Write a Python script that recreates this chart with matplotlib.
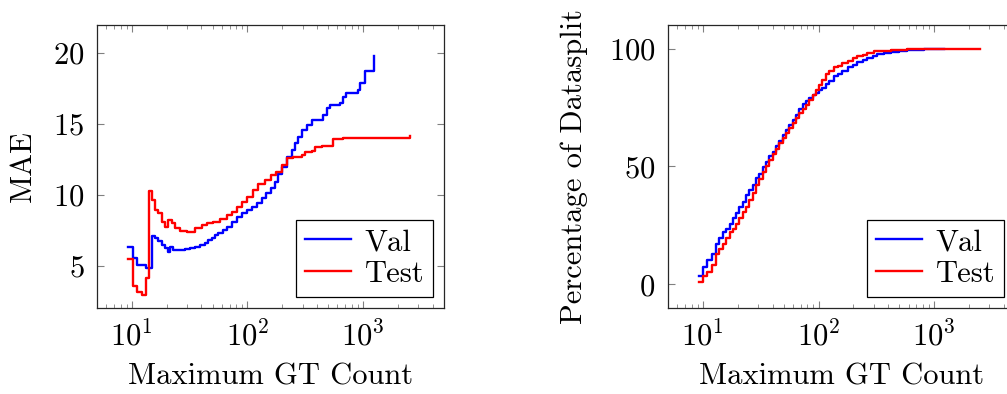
import matplotlib
matplotlib.use('Agg')
import matplotlib.pyplot as plt
from matplotlib.ticker import LogLocator, LogFormatterSciNotation, NullFormatter

plt.rcParams['font.family'] = 'cmr10'
plt.rcParams['mathtext.fontset'] = 'cm'
plt.rcParams['axes.formatter.use_mathtext'] = True
plt.rcParams['font.size'] = 22

# MAE vs maximum GT count (step curves)
mae_val_x = [9.2, 10.2, 11.2, 13.3, 15.1, 15.9, 16.9, 18.2, 19.4, 20.7, 21.4, 22.9, 28.9,
             31.9, 35.2, 38.9, 42.9, 45.8, 49, 52.5, 56, 61.9, 66, 73, 80.6, 89, 98.3,
             108.6, 120, 132.5, 146, 161, 173, 185, 197, 218, 241, 258, 275, 294, 324,
             358, 452, 483, 515, 629, 672, 718, 906, 944, 1033, 1242]
mae_val_y = [6.30, 5.52, 5.05, 4.82, 7.12, 6.93, 6.70, 6.46, 6.23, 5.99, 6.30, 6.11, 6.18,
             6.27, 6.34, 6.46, 6.62, 6.77, 6.93, 7.17, 7.33, 7.52, 7.75, 8.11, 8.46, 8.70,
             8.93, 9.17, 9.41, 9.76, 10.11, 10.47, 10.93, 11.45, 11.99, 12.70, 13.17,
             13.64, 14.11, 14.58, 14.94, 15.29, 15.64, 16.11, 16.35, 16.47, 16.94, 17.22,
             17.41, 17.93, 18.77, 19.81]
mae_test_x = [9.2, 10.2, 11.2, 12.2, 13.3, 14.2, 15.1, 15.9, 16.9, 18.2, 19.4, 20.7, 22.1,
              23.6, 26.1, 29.9, 35.2, 40.2, 44.4, 50.7, 57.9, 66, 73, 80.6, 89, 98.3, 112,
              124, 142, 161, 178, 197, 218, 248, 294, 315, 358, 384, 437, 551, 672, 2560]
mae_test_y = [5.45, 3.52, 3.16, 2.93, 4.11, 10.30, 9.64, 8.93, 8.70, 8.11, 7.75, 8.23,
              8.00, 7.64, 7.47, 7.40, 7.64, 7.87, 8.00, 8.11, 8.28, 8.58, 8.81, 9.17, 9.52,
              9.87, 10.35, 10.77, 11.05, 11.40, 11.64, 12.11, 12.58, 12.70, 12.82, 13.05,
              13.10, 13.40, 13.45, 13.95, 14.00, 14.16]

# cumulative percentage of the datasplit
cdf_val_x = [9.2, 10, 10.9, 11.96, 13, 13.9, 14.9, 15.9, 17, 18.1, 19.4, 20.7, 22.1, 23.6,
             25.2, 26.9, 28.8, 30.7, 32.9, 35.1, 37.5, 40, 42.8, 45.8, 48.9, 52.3, 55.9,
             59.7, 63.7, 68, 72.7, 77.7, 83, 88.8, 94.8, 101, 108, 116, 124, 136, 146, 160,
             178, 197, 217, 240, 264, 293, 323, 370, 420, 500, 585, 700, 813, 1000, 1211]
cdf_val_y = [3.4, 7.4, 10.2, 12.8, 17.1, 19.5, 22.3, 23.7, 25.8, 28.0, 30.1, 33.0, 35.1,
             37.9, 40.1, 42.2, 45.0, 47.0, 49.6, 52.0, 54.3, 56.3, 58.5, 61.0, 63.5, 65.6,
             67.8, 69.9, 72.0, 74.2, 76.3, 77.8, 79.2, 80.3, 81.3, 82.3, 83.4, 84.8, 86.3,
             88.4, 89.1, 90.6, 92.0, 93.1, 94.1, 95.2, 96.2, 97.0, 97.6, 98.2, 98.6, 99.0,
             99.3, 99.5, 99.7, 99.9, 100.0]
cdf_test_x = [9.2, 10, 10.9, 11.96, 13, 13.9, 14.9, 15.9, 17, 18.1, 19.4, 20.7, 22.1, 23.6,
              25.2, 26.9, 28.8, 30.7, 32.9, 35.1, 37.5, 40, 42.8, 45.8, 48.9, 52.3, 55.9,
              59.7, 63.7, 68, 72.7, 77.7, 83, 88.8, 94.8, 101, 108, 116, 124, 136, 146,
              160, 178, 197, 217, 240, 264, 301, 350, 420, 500, 585, 800, 1000, 2506]
cdf_test_y = [1.0, 3.4, 5.3, 8.1, 12.8, 15.2, 17.3, 19.5, 22.3, 23.7, 25.8, 28.0, 30.8,
              33.0, 35.8, 38.6, 42.2, 44.5, 47.5, 50.2, 52.8, 55.1, 57.6, 59.8, 62.0, 64.0,
              66.2, 68.3, 70.5, 72.5, 74.5, 76.2, 78.2, 80.4, 82.5, 84.5, 86.8, 89.1, 90.6,
              92.0, 92.8, 93.8, 94.9, 95.8, 96.7, 97.4, 98.0, 98.8, 99.1, 99.4, 99.6, 99.7,
              99.9, 100.0, 100.0]


def style_axis(ax, ylim, yticks):
    ax.set_xscale('log')
    ax.set_xlim(5, 5000)
    ax.set_ylim(*ylim)
    ax.set_yticks(yticks)
    ax.xaxis.set_major_locator(LogLocator(base=10, numticks=10))
    ax.xaxis.set_minor_locator(LogLocator(base=10, subs=range(2, 10), numticks=20))
    ax.xaxis.set_major_formatter(LogFormatterSciNotation())
    ax.xaxis.set_minor_formatter(NullFormatter())
    ax.tick_params(which='both', direction='in', top=True, right=True, color='0.5')
    ax.tick_params(which='major', length=5, width=0.8, pad=9)
    ax.tick_params(which='minor', length=3, width=0.6)
    for s in ax.spines.values():
        s.set_color('0.15')
        s.set_linewidth(0.9)
    ax.set_xlabel('Maximum GT Count', labelpad=8)
    leg = ax.legend(loc='lower right', fancybox=False, edgecolor='black',
                    framealpha=1, borderaxespad=0.35, handlelength=1.5,
                    handletextpad=0.45, borderpad=0.3, labelspacing=0.15)
    leg.get_frame().set_linewidth(0.9)


fig = plt.figure(figsize=(10.07, 3.94), dpi=100)
ax1 = fig.add_axes([0.0963, 0.2183, 0.3446, 0.7183])
ax2 = fig.add_axes([0.6634, 0.2183, 0.3446, 0.7183])

ax1.plot(mae_val_x, mae_val_y, drawstyle='steps-post', color='blue', lw=1.7, label='Val')
ax1.plot(mae_test_x, mae_test_y, drawstyle='steps-post', color='red', lw=1.7, label='Test')
ax1.set_ylabel('MAE', labelpad=11.5)
style_axis(ax1, (2, 22), [5, 10, 15, 20])

ax2.plot(cdf_val_x, cdf_val_y, drawstyle='steps-post', color='blue', lw=1.7, label='Val')
ax2.plot(cdf_test_x, cdf_test_y, drawstyle='steps-post', color='red', lw=1.7, label='Test')
ax2.set_ylabel('Percentage of Datasplit', labelpad=15)
style_axis(ax2, (-10, 110), [0, 50, 100])

fig.savefig('out.png', dpi=100)
